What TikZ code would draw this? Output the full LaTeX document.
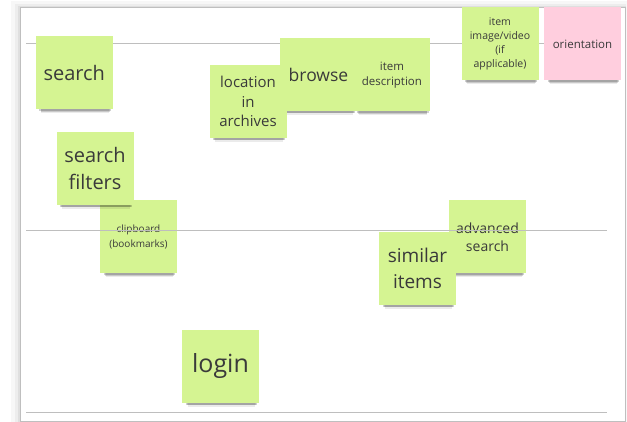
\documentclass[tikz,border=0pt]{standalone}
\usepackage{fontspec}
\setmainfont{Open Sans}
\usetikzlibrary{positioning, shadows}

\definecolor{notegreen}{RGB}{213,244,146}
\definecolor{notepink}{RGB}{255,206,222}
\definecolor{notetext}{RGB}{58,58,58}
\definecolor{laneline}{RGB}{190,190,190}

\newcommand{\fsz}[2]{\fontsize{#1}{#2}\selectfont}

\begin{document}
\begin{tikzpicture}[x=1pt, y=-1pt, node distance=0pt,
    note/.style={minimum width=77pt, minimum height=73pt, inner sep=1pt,
                 align=center, text=notetext, fill=notegreen,
                 general shadow={fill=black, opacity=.08, shadow yshift=-9pt,
                                 shadow xshift=1pt, shadow scale=.88},
                 general shadow={fill=black, opacity=.14, shadow yshift=-6.5pt,
                                 shadow xshift=1pt, shadow scale=.9},
                 general shadow={fill=black, opacity=.18, shadow yshift=-4.5pt,
                                 shadow xshift=1pt, shadow scale=.93}},
    lane/.style={draw=laneline, line width=1pt}]
  \useasboundingbox (0,0) rectangle (627,422);

  % board
  \fill[black, opacity=.03] (11,1) rectangle (627,422);
  \fill[black, opacity=.04] (15,4) rectangle (626,422);
  \fill[black, opacity=.06] (18,6) rectangle (626,422);
  \filldraw[fill=white, draw=black!25, line width=.6pt] (20,7) rectangle (625,421);

  % lanes
  \draw[lane] (26,44) -- (607,44);
  \draw[lane] (26,412) -- (607,412);

  % notes
  \node[note, font=\fsz{20}{24}] (search) at (74.25,73) {search};
  \node[note, font=\fsz{17.5}{21}] (browse) at (318.5,74.5) {browse};
  \node[note, right=-4pt of browse, yshift=-0.5pt, font=\fsz{11.5}{15}] (descr)
    {item\\description};
  \node[note, font=\fsz{15}{19.5}] (location) at (248,101.5) {location\\in\\archives};
  \node[note, font=\fsz{10.5}{13.8}] (media) at (500,44) {item\\image/video\\(if\\applicable)};
  \node[note, fill=notepink, font=\fsz{11.5}{14}] (orient) at (582.5,44) {orientation};
  \node[note, font=\fsz{10}{14.7}] (clip) at (138.5,237) {clipboard\\(bookmarks)};
  \node[note, font=\fsz{20}{27}] (filters) at (95,168.5) {search\\filters};
  \node[note, font=\fsz{14}{17.7}] (advanced) at (487.5,237) {advanced\\search};
  \node[note, font=\fsz{19}{26}] (similar) at (417.5,268.5) {similar\\items};
  \node[note, font=\fsz{25}{30}] (login) at (220.5,366.5) {login};

  \draw[lane] (26,231) -- (607,231);
\end{tikzpicture}
\end{document}
